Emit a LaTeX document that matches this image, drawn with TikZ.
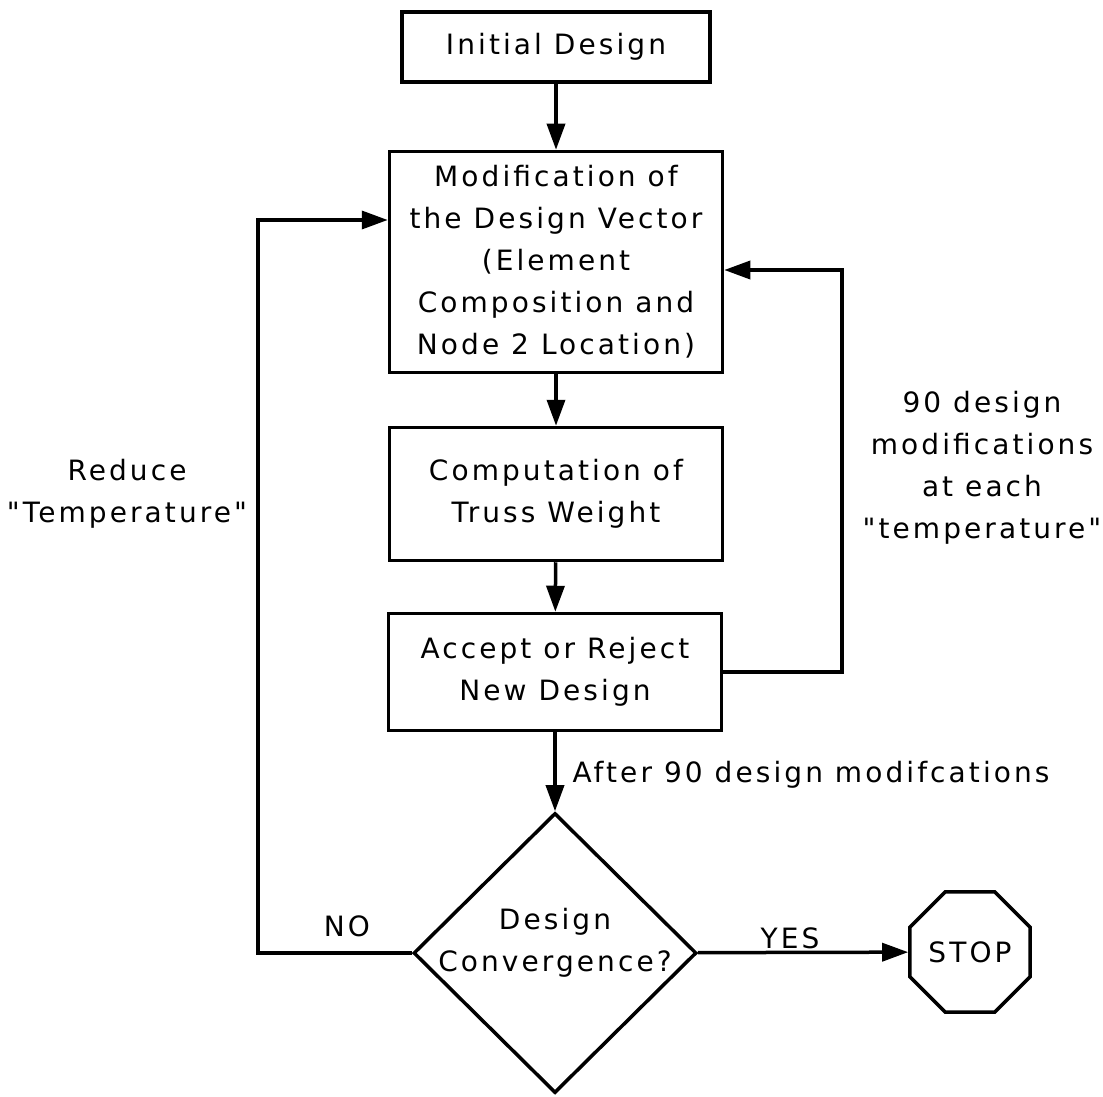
\documentclass[tikz,border=0pt]{standalone}
\usepackage{fontspec}
\setmainfont{DejaVu Sans}[LetterSpace=11, Ligatures=TeXOff]
\usetikzlibrary{shapes.geometric, arrows.meta, positioning}

\begin{document}
\begin{tikzpicture}[x=1pt, y=-1pt, line width=3.5pt, >={Triangle[length=26pt, width=18pt]},
		font=\fontsize{28}{42}\selectfont,
		block/.style={rectangle, draw, inner sep=0pt, align=center, minimum width=333pt},
		decision/.style={diamond, draw, inner sep=-40pt, align=center, minimum width=283pt, minimum height=280pt},
		halt/.style={regular polygon, regular polygon sides=8, draw, inner sep=0pt, minimum size=130pt},
		note/.style={align=center, inner sep=0pt}]
		\useasboundingbox (0,0) rectangle (1103,1097);
		
		% --- Colonne centrale ---
		\node[block, minimum width=308pt, minimum height=70pt] (init) at (556,47) {Initial Design};
		\node[block, minimum height=221pt] (modif) at (556,262) {Modification of\\the Design Vector\\(Element\\Composition and\\Node 2 Location)};
		\node[block, minimum height=133pt] (weight) at (556,494) {Computation of\\Truss Weight};
		\node[block, minimum height=117pt] (accept) at (555,672) {Accept or Reject\\New Design};
		\node[decision] (conv) at (555,953) {Design\\Convergence?\\[-16pt]};
		\node[halt] (stop) at (970,952) {STOP};
		
		% --- Textes ---
		\node[note] (lbl_after) at (811,775) {After 90 design modifcations};
		\node[note] (lbl_yes) at (790,938) {YES};
		\node[note] (lbl_no) at (347,926) {NO};
		\node[note] (lbl_reduce) at (127,494) {Reduce\\"Temperature"};
		\node[note] (lbl_loop) at (982,468) {90 design\\modifications\\at each\\"temperature"};
		
		% --- Points de retour ---
		\coordinate (loop_r) at (842,270);
		\coordinate (loop_l) at (258,220);
		
		% --- Fleches ---
		\draw[->] (init) -- (modif);
		\draw[->] (modif) -- (weight);
		\draw[->] (weight) -- (accept);
		\draw[->] (accept) -- (conv);
		\draw[->] (conv) -- (stop);
		\draw[->] (accept.east) -| (loop_r) -- (loop_r -| modif.east);
		\draw[->] (conv.west) -| (loop_l) -- (loop_l -| modif.west);
		
	\end{tikzpicture}
\end{document}
